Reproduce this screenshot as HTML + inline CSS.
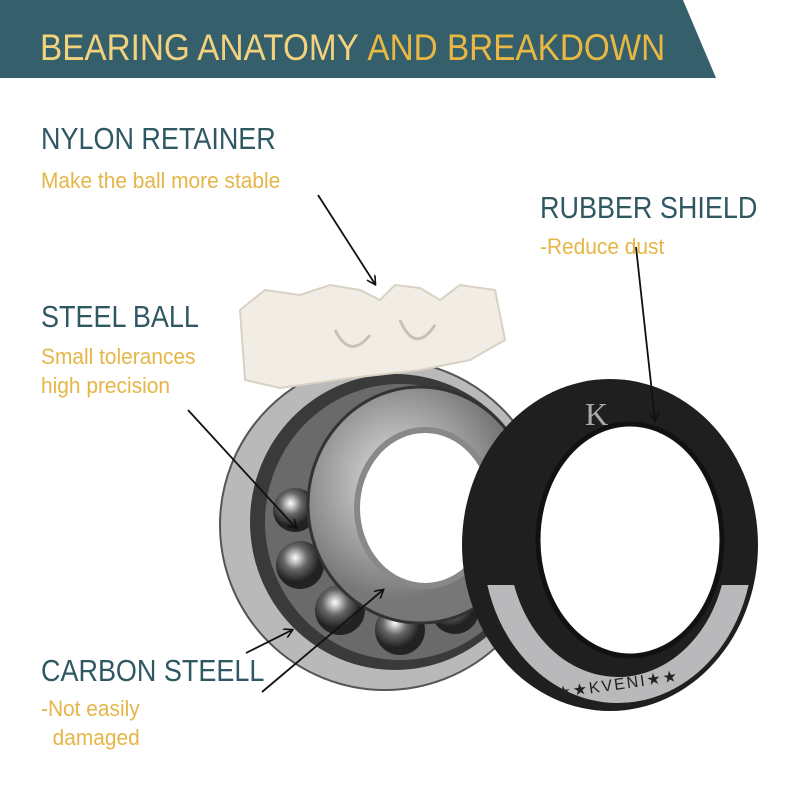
<!DOCTYPE html>
<html><head><meta charset="utf-8"><style>
html,body{margin:0;padding:0;background:#fff;}
body{width:800px;height:800px;position:relative;overflow:hidden;font-family:"Liberation Sans",sans-serif;}
.t{position:absolute;color:#2f5863;font-size:31px;white-space:nowrap;transform:scaleX(0.87);transform-origin:0 0;}
.s{position:absolute;color:#e6b547;font-size:22px;white-space:nowrap;line-height:29px;transform:scaleX(0.95);transform-origin:0 0;}
</style></head><body>
<svg width="800" height="800" style="position:absolute;left:0;top:0">
<defs>
<marker id="a" markerWidth="10" markerHeight="10" refX="8" refY="5" orient="auto" markerUnits="userSpaceOnUse"><path d="M0,0 L9,5 L0,10" fill="none" stroke="#111" stroke-width="1.6"/></marker>
<radialGradient id="m" cx="40%" cy="40%"><stop offset="0" stop-color="#e4e4e4"/><stop offset="1" stop-color="#777"/></radialGradient>
<radialGradient id="b" cx="40%" cy="35%"><stop offset="0" stop-color="#fff"/><stop offset=".5" stop-color="#666"/><stop offset="1" stop-color="#222"/></radialGradient>
<clipPath id="low"><rect x="400" y="585" width="400" height="200"/></clipPath>
</defs>
<polygon points="0,0 683,0 716,78 0,78" fill="#345f6b"/>
<text x="40" y="60" font-family="Liberation Sans, sans-serif" font-size="37" fill="#f3d27e" transform="translate(40 0) scale(0.9 1) translate(-40 0)">BEARING ANATOMY <tspan fill="#eab842">AND BREAKDOWN</tspan></text>
<ellipse cx="385" cy="525" rx="165" ry="165" fill="#b9b9b9" stroke="#555" stroke-width="2"/>
<ellipse cx="395" cy="522" rx="145" ry="148" fill="#3a3a3a"/>
<ellipse cx="400" cy="522" rx="135" ry="138" fill="#6a6a6a"/>
<circle cx="295" cy="510" r="22" fill="url(#b)"/>
<circle cx="300" cy="565" r="24" fill="url(#b)"/>
<circle cx="340" cy="610" r="25" fill="url(#b)"/>
<circle cx="400" cy="630" r="25" fill="url(#b)"/>
<circle cx="455" cy="610" r="24" fill="url(#b)"/>
<ellipse cx="420" cy="505" rx="112" ry="118" fill="url(#m)" stroke="#333" stroke-width="3"/>
<ellipse cx="425" cy="508" rx="68" ry="78" fill="#fff" stroke="#888" stroke-width="6"/>
<path d="M240,310 L265,290 L300,295 L330,285 L360,290 L380,300 L395,285 L420,288 L440,300 L460,285 L495,290 L505,340 L470,360 L420,370 L350,378 L280,388 L245,380 Z" fill="#f1ede4" stroke="#d8d2c4" stroke-width="2"/>
<path d="M335,330 Q350,360 370,335 M400,320 Q415,355 435,325" fill="none" stroke="#c9c2b2" stroke-width="3"/>
<ellipse cx="610" cy="545" rx="148" ry="166" fill="#1f1f1f"/>
<ellipse cx="618" cy="545" rx="122" ry="145" fill="none" stroke="#b9b9bb" stroke-width="26" clip-path="url(#low)"/>
<ellipse cx="630" cy="540" rx="92" ry="116" fill="#fff" stroke="#111" stroke-width="5"/>
<text x="585" y="425" font-family="Liberation Serif, serif" font-size="32" fill="#aaa">K</text>
<text x="556" y="692" font-family="Liberation Sans, sans-serif" font-size="16" fill="#222" letter-spacing="2" transform="rotate(-8 600 685)">★★KVENI★★</text>
<g stroke="#111" stroke-width="1.8" fill="none" marker-end="url(#a)">
<line x1="318" y1="195" x2="375" y2="284"/>
<line x1="636" y1="247" x2="655" y2="420"/>
<line x1="188" y1="410" x2="296" y2="528"/>
<line x1="246" y1="653" x2="292" y2="630"/>
<line x1="262" y1="692" x2="383" y2="590"/>
</g>
</svg>
<div class="t" style="left:41px;top:121px">NYLON RETAINER</div>
<div class="s" style="left:41px;top:166px">Make the ball more stable</div>
<div class="t" style="left:540px;top:190px">RUBBER SHIELD</div>
<div class="s" style="left:540px;top:232px">-Reduce dust</div>
<div class="t" style="left:41px;top:299px">STEEL BALL</div>
<div class="s" style="left:41px;top:342px">Small tolerances<br>high precision</div>
<div class="t" style="left:41px;top:653px">CARBON STEELL</div>
<div class="s" style="left:41px;top:694px">-Not easily<br>&nbsp;&nbsp;damaged</div>
</body></html>
